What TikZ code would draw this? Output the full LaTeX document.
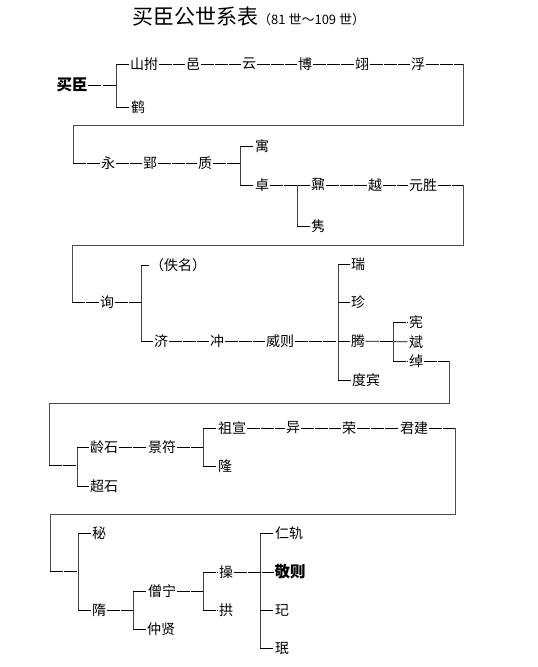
\documentclass[tikz,border=0pt]{standalone}
\usepackage{fontspec}
\setmainfont{Noto Sans CJK SC}
\begin{document}
\begin{tikzpicture}[x=1pt,y=-1pt,
  nm/.style={inner sep=0.5pt,font=\fontsize{14}{15}\selectfont},
  bnm/.style={inner sep=0.5pt,font=\fontsize{15.5}{16}\selectfont\bfseries},
  lk/.style={draw=black,line width=0.8pt,dash pattern=on 13pt off 1.3pt},
  br/.style={draw=black!75,line width=0.8pt},
  lp/.style={draw=black!70,line width=0.8pt}]
\useasboundingbox (0,0) rectangle (538,667);
% title
\node[anchor=west,inner sep=0] (title) at (132,17) {{\fontsize{21}{22}\selectfont 买臣公世系表}{\fontsize{13}{14}\selectfont （81 世～109 世）}};
% row 1
\node[bnm] (maichen) at (72,85) {买臣};
\node[nm] (shanfu) at (144,64) {山拊};
\node[nm] (he) at (138,107) {鹤};
\node[nm] (yi) at (193,64) {邑};
\node[nm] (yun) at (249,64) {云};
\node[nm] (bo) at (305,64) {博};
\node[nm] (yib) at (362,64) {翊};
\node[nm] (fu) at (418,64) {浮};
\coordinate (b1t) at (116,64);
\coordinate (b1m) at (116,85);
\coordinate (b1b) at (116,107);
\draw[br] (b1t) -- (b1b);
\draw[lk] (maichen) -- (b1m);
\draw[lk] (b1t) -- (shanfu);
\draw[lk] (b1b) -- (he);
\draw[lk] (shanfu) -- (yi);
\draw[lk] (yi) -- (yun);
\draw[lk] (yun) -- (bo);
\draw[lk] (bo) -- (yib);
\draw[lk] (yib) -- (fu);
\coordinate (l1a) at (463,64);
\coordinate (l1b) at (463,125);
\coordinate (l1c) at (73,125);
\coordinate (l1d) at (73,163);
\draw[lk] (fu) -- (l1a);
\draw[lp] (l1a) -- (l1b) -- (l1c) -- (l1d);
% row 2
\node[nm] (yong) at (108,163) {永};
\node[nm] (ying) at (150,163) {郢};
\node[nm] (zhi) at (205,163) {质};
\node[nm] (yu) at (262,146) {寓};
\node[nm] (zhuo) at (262,185) {卓};
\node[nm] (nai) at (318,185) {鼐};
\node[nm] (jun) at (318,226) {隽};
\node[nm] (yue) at (375,185) {越};
\node[nm] (yuansheng) at (423,185) {元胜};
\draw[lk] (l1d) -- (yong);
\draw[lk] (yong) -- (ying);
\draw[lk] (ying) -- (zhi);
\coordinate (b2t) at (240,146);
\coordinate (b2m) at (240,163);
\coordinate (b2b) at (240,185);
\draw[br] (b2t) -- (b2b);
\draw[lk] (zhi) -- (b2m);
\draw[lk] (b2t) -- (yu);
\draw[lk] (b2b) -- (zhuo);
\coordinate (b3t) at (297,185);
\coordinate (b3b) at (297,226);
\draw[br] (b3t) -- (b3b);
\draw[lk] (zhuo) -- (nai);
\draw[lk] (b3b) -- (jun);
\draw[lk] (nai) -- (yue);
\draw[lk] (yue) -- (yuansheng);
\coordinate (l2a) at (463,185);
\coordinate (l2b) at (463,245);
\coordinate (l2c) at (72,245);
\coordinate (l2d) at (72,302);
\draw[lk] (yuansheng) -- (l2a);
\draw[lp] (l2a) -- (l2b) -- (l2c) -- (l2d);
% row 3
\node[nm] (xun) at (107,302) {询};
\node[nm] (yiming) at (178,265) {（佚名）};
\node[nm] (ji) at (161,341) {济};
\node[nm] (chong) at (217,341) {冲};
\node[nm] (weize) at (280,341) {威则};
\node[nm] (rui) at (358,264) {瑞};
\node[nm] (zhen) at (358,302) {珍};
\node[nm] (teng) at (358,341) {腾};
\node[nm] (dubin) at (366,380) {度宾};
\node[nm] (xian) at (416,322) {宪};
\node[nm] (bin) at (416,342) {斌};
\node[nm] (chuo) at (416,361) {绰};
\draw[lk] (l2d) -- (xun);
\coordinate (b4t) at (141,265);
\coordinate (b4m) at (141,302);
\coordinate (b4b) at (141,341);
\draw[br] (b4t) -- (b4b);
\draw[lk] (xun) -- (b4m);
\draw[lk] (b4t) -- (yiming.west);
\draw[lk] (b4b) -- (ji);
\draw[lk] (ji) -- (chong);
\draw[lk] (chong) -- (weize);
\coordinate (b5t) at (338,264);
\coordinate (b5b) at (338,380);
\draw[br] (b5t) -- (b5b);
\draw[lk] (weize) -- (teng);
\draw[lk] (b5t) -- (rui);
\draw[lk] (338,302) -- (zhen);
\draw[lk] (b5b) -- (dubin);
\coordinate (b6t) at (393,322);
\coordinate (b6b) at (393,361);
\draw[br] (b6t) -- (b6b);
\draw[lk] (teng) -- (bin);
\draw[lk] (b6t) -- (xian);
\draw[lk] (b6b) -- (chuo);
\coordinate (l3a) at (449,361);
\coordinate (l3b) at (449,403);
\coordinate (l3c) at (49,403);
\coordinate (l3d) at (49,465);
\draw[lk] (chuo) -- (l3a);
\draw[lp] (l3a) -- (l3b) -- (l3c) -- (l3d);
% row 4
\node[nm] (lingshi) at (104,447) {龄石};
\node[nm] (chaoshi) at (104,486) {超石};
\node[nm] (jingfu) at (162,447) {景符};
\node[nm] (zuxuan) at (232,428) {祖宣};
\node[nm] (long) at (225,466) {隆};
\node[nm] (yic) at (293,428) {异};
\node[nm] (rong) at (349,428) {荣};
\node[nm] (junjian) at (414,428) {君建};
\coordinate (b7t) at (77,447);
\coordinate (b7m) at (77,465);
\coordinate (b7b) at (77,486);
\draw[br] (b7t) -- (b7b);
\draw[lk] (l3d) -- (b7m);
\draw[lk] (b7t) -- (lingshi);
\draw[lk] (b7b) -- (chaoshi);
\draw[lk] (lingshi) -- (jingfu);
\coordinate (b8t) at (203,428);
\coordinate (b8m) at (203,447);
\coordinate (b8b) at (203,466);
\draw[br] (b8t) -- (b8b);
\draw[lk] (jingfu) -- (b8m);
\draw[lk] (b8t) -- (zuxuan);
\draw[lk] (b8b) -- (long);
\draw[lk] (zuxuan) -- (yic);
\draw[lk] (yic) -- (rong);
\draw[lk] (rong) -- (junjian);
\coordinate (l4a) at (455,428);
\coordinate (l4b) at (455,514);
\coordinate (l4c) at (50,514);
\coordinate (l4d) at (50,571);
\draw[lk] (junjian) -- (l4a);
\draw[lp] (l4a) -- (l4b) -- (l4c) -- (l4d);
% row 5
\node[nm] (mi) at (99,533) {秘};
\node[nm] (sui) at (99,610) {隋};
\node[nm] (sengning) at (162,591) {僧宁};
\node[nm] (zhongxian) at (161,629) {仲贤};
\node[nm] (cao) at (226,572) {操};
\node[nm] (gong) at (226,610) {拱};
\node[nm] (rengui) at (289,533) {仁轨};
\node[bnm] (jingze) at (290,572) {敬则};
\node[nm] (qi) at (282,610) {玘};
\node[nm] (min) at (282,648) {珉};
\coordinate (b9t) at (78,533);
\coordinate (b9m) at (78,571);
\coordinate (b9b) at (78,610);
\draw[br] (b9t) -- (b9b);
\draw[lk] (l4d) -- (b9m);
\draw[lk] (b9t) -- (mi);
\draw[lk] (b9b) -- (sui);
\coordinate (b10t) at (133,591);
\coordinate (b10m) at (133,610);
\coordinate (b10b) at (133,629);
\draw[br] (b10t) -- (b10b);
\draw[lk] (sui) -- (b10m);
\draw[lk] (b10t) -- (sengning);
\draw[lk] (b10b) -- (zhongxian);
\coordinate (b11t) at (203,572);
\coordinate (b11m) at (203,591);
\coordinate (b11b) at (203,610);
\draw[br] (b11t) -- (b11b);
\draw[lk] (sengning) -- (b11m);
\draw[lk] (b11t) -- (cao);
\draw[lk] (b11b) -- (gong);
\coordinate (b12t) at (260,533);
\coordinate (b12b) at (260,648);
\draw[br] (b12t) -- (b12b);
\draw[lk] (cao) -- (jingze);
\draw[lk] (b12t) -- (rengui);
\draw[lk] (260,610) -- (qi);
\draw[lk] (b12b) -- (min);
\end{tikzpicture}
\end{document}
